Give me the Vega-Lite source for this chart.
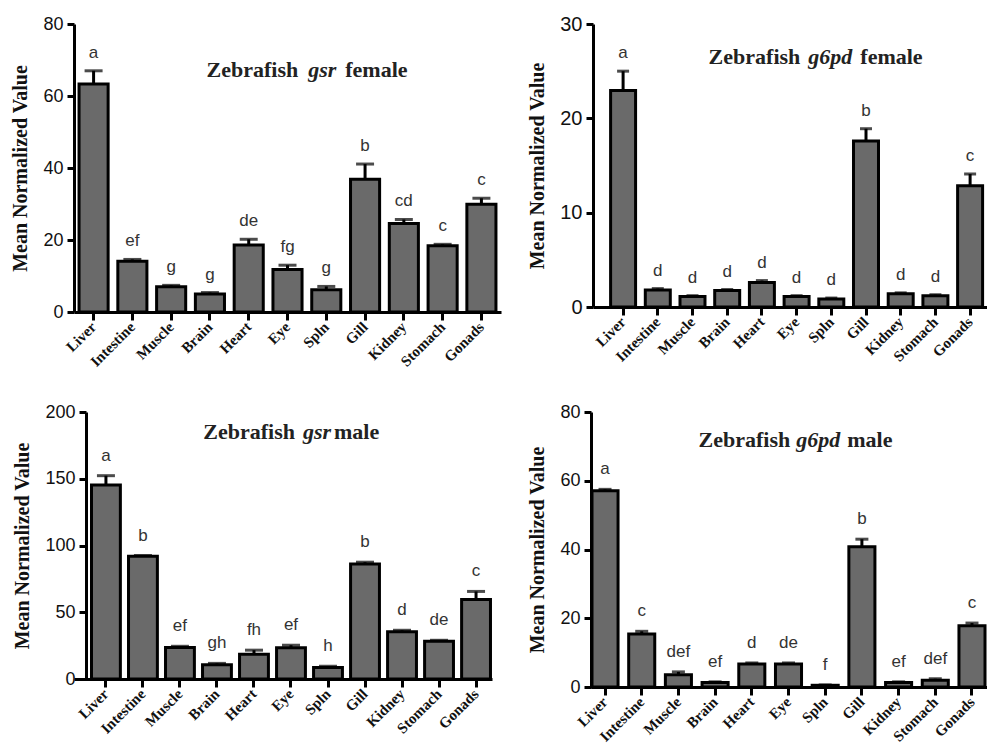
{
  "$schema": "https://vega.github.io/schema/vega-lite/v6.json",
  "padding": {"left": 10, "top": 14, "right": 0, "bottom": 0},
  "background": "white",
  "datasets": {
    "gsrF": [
      {"tissue": "Liver", "mean": 63.3, "upper": 67.0, "letter": "a"},
      {"tissue": "Intestine", "mean": 14.1, "upper": 14.6, "letter": "ef"},
      {"tissue": "Muscle", "mean": 7.0, "upper": 7.4, "letter": "g"},
      {"tissue": "Brain", "mean": 5.0, "upper": 5.4, "letter": "g"},
      {"tissue": "Heart", "mean": 18.6, "upper": 20.2, "letter": "de"},
      {"tissue": "Eye", "mean": 11.8, "upper": 13.0, "letter": "fg"},
      {"tissue": "Spln", "mean": 6.2, "upper": 7.1, "letter": "g"},
      {"tissue": "Gill", "mean": 36.9, "upper": 41.1, "letter": "b"},
      {"tissue": "Kidney", "mean": 24.6, "upper": 25.7, "letter": "cd"},
      {"tissue": "Stomach", "mean": 18.4, "upper": 18.8, "letter": "c"},
      {"tissue": "Gonads", "mean": 29.9, "upper": 31.6, "letter": "c"}
    ],
    "g6pdF": [
      {"tissue": "Liver", "mean": 22.96, "upper": 25.0, "letter": "a"},
      {"tissue": "Intestine", "mean": 1.8, "upper": 1.95, "letter": "d"},
      {"tissue": "Muscle", "mean": 1.1, "upper": 1.2, "letter": "d"},
      {"tissue": "Brain", "mean": 1.75, "upper": 1.85, "letter": "d"},
      {"tissue": "Heart", "mean": 2.6, "upper": 2.8, "letter": "d"},
      {"tissue": "Eye", "mean": 1.1, "upper": 1.2, "letter": "d"},
      {"tissue": "Spln", "mean": 0.85, "upper": 0.95, "letter": "d"},
      {"tissue": "Gill", "mean": 17.6, "upper": 18.9, "letter": "b"},
      {"tissue": "Kidney", "mean": 1.4, "upper": 1.5, "letter": "d"},
      {"tissue": "Stomach", "mean": 1.2, "upper": 1.3, "letter": "d"},
      {"tissue": "Gonads", "mean": 12.85, "upper": 14.1, "letter": "c"}
    ],
    "gsrM": [
      {"tissue": "Liver", "mean": 145.3, "upper": 152.3, "letter": "a"},
      {"tissue": "Intestine", "mean": 91.9, "upper": 92.5, "letter": "b"},
      {"tissue": "Muscle", "mean": 23.6, "upper": 24.5, "letter": "ef"},
      {"tissue": "Brain", "mean": 10.7, "upper": 11.7, "letter": "gh"},
      {"tissue": "Heart", "mean": 18.6, "upper": 21.6, "letter": "fh"},
      {"tissue": "Eye", "mean": 23.4, "upper": 25.3, "letter": "ef"},
      {"tissue": "Spln", "mean": 8.7, "upper": 9.5, "letter": "h"},
      {"tissue": "Gill", "mean": 86.2, "upper": 87.5, "letter": "b"},
      {"tissue": "Kidney", "mean": 35.3, "upper": 36.5, "letter": "d"},
      {"tissue": "Stomach", "mean": 28.3, "upper": 29.0, "letter": "de"},
      {"tissue": "Gonads", "mean": 59.6, "upper": 65.6, "letter": "c"}
    ],
    "g6pdM": [
      {"tissue": "Liver", "mean": 57.1, "upper": 57.5, "letter": "a"},
      {"tissue": "Intestine", "mean": 15.4, "upper": 16.2, "letter": "c"},
      {"tissue": "Muscle", "mean": 3.6, "upper": 4.4, "letter": "def"},
      {"tissue": "Brain", "mean": 1.3, "upper": 1.5, "letter": "ef"},
      {"tissue": "Heart", "mean": 6.7, "upper": 7.0, "letter": "d"},
      {"tissue": "Eye", "mean": 6.7, "upper": 7.0, "letter": "de"},
      {"tissue": "Spln", "mean": 0.5, "upper": 0.6, "letter": "f"},
      {"tissue": "Gill", "mean": 40.8, "upper": 43.0, "letter": "b"},
      {"tissue": "Kidney", "mean": 1.3, "upper": 1.5, "letter": "ef"},
      {"tissue": "Stomach", "mean": 2.0, "upper": 2.4, "letter": "def"},
      {"tissue": "Gonads", "mean": 17.8, "upper": 18.6, "letter": "c"}
    ]
  },
  "columns": 2,
  "align": "none",
  "spacing": {"row": 33, "column": 26},
  "concat": [
    {
      "width": 427, "height": 288,
      "data": {"name": "gsrF"},
      "encoding": {"x": {"field": "tissue", "type": "nominal", "sort": null, "title": null,
        "scale": {"domain": ["Liver","Intestine","Muscle","Brain","Heart","Eye","Spln","Gill","Kidney","Stomach","Gonads"], "paddingInner": 0.25, "paddingOuter": 0.13}}},
      "layer": [
        {"mark": {"type": "bar", "fill": "#6a6a6a", "stroke": "black", "strokeWidth": 3},
         "encoding": {"y": {"field": "mean", "type": "quantitative", "title": "Mean Normalized Value", "scale": {"domain": [0, 80]}, "axis": {"values": [0, 20, 40, 60, 80]}}}},
        {"mark": {"type": "rule", "strokeWidth": 3, "color": "black"},
         "encoding": {"y": {"field": "mean", "type": "quantitative", "title": "Mean Normalized Value"}, "y2": {"field": "upper"}}},
        {"mark": {"type": "tick", "thickness": 3, "size": 18, "color": "black"},
         "encoding": {"y": {"field": "upper", "type": "quantitative", "title": "Mean Normalized Value"}}},
        {"mark": {"type": "text", "dy": -13, "font": "Liberation Sans", "fontSize": 17, "color": "#333", "baseline": "alphabetic"},
         "encoding": {"y": {"field": "upper", "type": "quantitative", "title": "Mean Normalized Value"}, "text": {"field": "letter"}}},
        {"data": {"values": [{"t": "Zebrafish"}]},
         "mark": {"type": "text", "align": "right", "dx": -28, "font": "Liberation Serif", "fontWeight": "bold", "fontSize": 22, "baseline": "alphabetic", "color": "#222"},
         "encoding": {"x": {"datum": "Spln"}, "y": {"datum": 65.3}, "text": {"field": "t"}}},
        {"data": {"values": [{"t": "gsr"}]},
         "mark": {"type": "text", "align": "center", "dx": -4, "font": "Liberation Serif", "fontWeight": "bold", "fontStyle": "italic", "fontSize": 22, "baseline": "alphabetic", "color": "#222"},
         "encoding": {"x": {"datum": "Spln"}, "y": {"datum": 65.3}, "text": {"field": "t"}}},
        {"data": {"values": [{"t": "female"}]},
         "mark": {"type": "text", "align": "left", "dx": 19, "font": "Liberation Serif", "fontWeight": "bold", "fontSize": 22, "baseline": "alphabetic", "color": "#222"},
         "encoding": {"x": {"datum": "Spln"}, "y": {"datum": 65.3}, "text": {"field": "t"}}}
      ]
    },
    {
      "width": 394, "height": 283,
      "data": {"name": "g6pdF"},
      "encoding": {"x": {"field": "tissue", "type": "nominal", "sort": null, "title": null,
        "scale": {"domain": ["Liver","Intestine","Muscle","Brain","Heart","Eye","Spln","Gill","Kidney","Stomach","Gonads"], "paddingInner": 0.28, "paddingOuter": 0.317, "align": 0.8}}},
      "layer": [
        {"mark": {"type": "bar", "fill": "#6a6a6a", "stroke": "black", "strokeWidth": 3},
         "encoding": {"y": {"field": "mean", "type": "quantitative", "title": "Mean Normalized Value", "scale": {"domain": [0, 30]}, "axis": {"values": [0, 10, 20, 30], "labelFontSize": 20}}}},
        {"mark": {"type": "rule", "strokeWidth": 3, "color": "black"},
         "encoding": {"y": {"field": "mean", "type": "quantitative", "title": "Mean Normalized Value"}, "y2": {"field": "upper"}}},
        {"mark": {"type": "tick", "thickness": 3, "size": 12, "color": "black"},
         "encoding": {"y": {"field": "upper", "type": "quantitative", "title": "Mean Normalized Value"}}},
        {"mark": {"type": "text", "dy": -13, "font": "Liberation Sans", "fontSize": 17, "color": "#333", "baseline": "alphabetic"},
         "encoding": {"y": {"field": "upper", "type": "quantitative", "title": "Mean Normalized Value"}, "text": {"field": "letter"}}},
        {"data": {"values": [{"t": "Zebrafish"}]},
         "mark": {"type": "text", "align": "right", "dx": -31, "font": "Liberation Serif", "fontWeight": "bold", "fontSize": 22, "baseline": "alphabetic", "color": "#222"},
         "encoding": {"x": {"datum": "Spln"}, "y": {"datum": 25.8}, "text": {"field": "t"}}},
        {"data": {"values": [{"t": "g6pd"}]},
         "mark": {"type": "text", "align": "center", "dx": -1, "font": "Liberation Serif", "fontWeight": "bold", "fontStyle": "italic", "fontSize": 22, "baseline": "alphabetic", "color": "#222"},
         "encoding": {"x": {"datum": "Spln"}, "y": {"datum": 25.8}, "text": {"field": "t"}}},
        {"data": {"values": [{"t": "female"}]},
         "mark": {"type": "text", "align": "left", "dx": 29, "font": "Liberation Serif", "fontWeight": "bold", "fontSize": 22, "baseline": "alphabetic", "color": "#222"},
         "encoding": {"x": {"datum": "Spln"}, "y": {"datum": 25.8}, "text": {"field": "t"}}}
      ]
    },
    {
      "width": 418, "height": 267,
      "data": {"name": "gsrM"},
      "encoding": {"x": {"field": "tissue", "type": "nominal", "sort": null, "title": null,
        "scale": {"domain": ["Liver","Intestine","Muscle","Brain","Heart","Eye","Spln","Gill","Kidney","Stomach","Gonads"], "paddingInner": 0.22, "paddingOuter": 0.257, "align": 0.92}}},
      "layer": [
        {"mark": {"type": "bar", "fill": "#6a6a6a", "stroke": "black", "strokeWidth": 3},
         "encoding": {"y": {"field": "mean", "type": "quantitative", "title": "Mean Normalized Value", "scale": {"domain": [0, 200]}, "axis": {"values": [0, 50, 100, 150, 200], "offset": -12}}}},
        {"mark": {"type": "rule", "strokeWidth": 3, "color": "black"},
         "encoding": {"y": {"field": "mean", "type": "quantitative", "title": "Mean Normalized Value"}, "y2": {"field": "upper"}}},
        {"mark": {"type": "tick", "thickness": 3, "size": 18, "color": "black"},
         "encoding": {"y": {"field": "upper", "type": "quantitative", "title": "Mean Normalized Value"}}},
        {"mark": {"type": "text", "dy": -15, "font": "Liberation Sans", "fontSize": 17, "color": "#333", "baseline": "alphabetic"},
         "encoding": {"y": {"field": "upper", "type": "quantitative", "title": "Mean Normalized Value"}, "text": {"field": "letter"}}},
        {"data": {"values": [{"t": "Zebrafish"}]},
         "mark": {"type": "text", "align": "right", "dx": -33, "font": "Liberation Serif", "fontWeight": "bold", "fontSize": 22, "baseline": "alphabetic", "color": "#222"},
         "encoding": {"x": {"datum": "Spln"}, "y": {"datum": 180}, "text": {"field": "t"}}},
        {"data": {"values": [{"t": "gsr"}]},
         "mark": {"type": "text", "align": "center", "dx": -11, "font": "Liberation Serif", "fontWeight": "bold", "fontStyle": "italic", "fontSize": 22, "baseline": "alphabetic", "color": "#222"},
         "encoding": {"x": {"datum": "Spln"}, "y": {"datum": 180}, "text": {"field": "t"}}},
        {"data": {"values": [{"t": "male"}]},
         "mark": {"type": "text", "align": "left", "dx": 6, "font": "Liberation Serif", "fontWeight": "bold", "fontSize": 22, "baseline": "alphabetic", "color": "#222"},
         "encoding": {"x": {"datum": "Spln"}, "y": {"datum": 180}, "text": {"field": "t"}}}
      ]
    },
    {
      "width": 398, "height": 275,
      "data": {"name": "g6pdM"},
      "encoding": {"x": {"field": "tissue", "type": "nominal", "sort": null, "title": null,
        "scale": {"domain": ["Liver","Intestine","Muscle","Brain","Heart","Eye","Spln","Gill","Kidney","Stomach","Gonads"], "paddingInner": 0.29, "paddingOuter": 0.068, "align": 0.2}}},
      "layer": [
        {"mark": {"type": "bar", "fill": "#6a6a6a", "stroke": "black", "strokeWidth": 3},
         "encoding": {"y": {"field": "mean", "type": "quantitative", "title": "Mean Normalized Value", "scale": {"domain": [0, 80]}, "axis": {"values": [0, 20, 40, 60, 80]}}}},
        {"mark": {"type": "rule", "strokeWidth": 3, "color": "black"},
         "encoding": {"y": {"field": "mean", "type": "quantitative", "title": "Mean Normalized Value"}, "y2": {"field": "upper"}}},
        {"mark": {"type": "tick", "thickness": 3, "size": 13, "color": "black"},
         "encoding": {"y": {"field": "upper", "type": "quantitative", "title": "Mean Normalized Value"}}},
        {"mark": {"type": "text", "dy": -15, "font": "Liberation Sans", "fontSize": 17, "color": "#333", "baseline": "alphabetic"},
         "encoding": {"y": {"field": "upper", "type": "quantitative", "title": "Mean Normalized Value"}, "text": {"field": "letter"}}},
        {"data": {"values": [{"t": "Zebrafish"}]},
         "mark": {"type": "text", "align": "right", "dx": -35, "font": "Liberation Serif", "fontWeight": "bold", "fontSize": 22, "baseline": "alphabetic", "color": "#222"},
         "encoding": {"x": {"datum": "Spln"}, "y": {"datum": 69.7}, "text": {"field": "t"}}},
        {"data": {"values": [{"t": "g6pd"}]},
         "mark": {"type": "text", "align": "center", "dx": -7, "font": "Liberation Serif", "fontWeight": "bold", "fontStyle": "italic", "fontSize": 22, "baseline": "alphabetic", "color": "#222"},
         "encoding": {"x": {"datum": "Spln"}, "y": {"datum": 69.7}, "text": {"field": "t"}}},
        {"data": {"values": [{"t": "male"}]},
         "mark": {"type": "text", "align": "left", "dx": 22, "font": "Liberation Serif", "fontWeight": "bold", "fontSize": 22, "baseline": "alphabetic", "color": "#222"},
         "encoding": {"x": {"datum": "Spln"}, "y": {"datum": 69.7}, "text": {"field": "t"}}}
      ]
    }
  ],
  "config": {
    "font": "Liberation Sans",
    "view": {"stroke": null},
    "axis": {"domainColor": "black", "domainWidth": 3, "tickColor": "black", "tickWidth": 3, "grid": false, "labelColor": "#111", "titleColor": "#111"},
    "axisY": {"tickSize": 7, "labelPadding": 4, "labelFont": "Liberation Sans", "labelFontSize": 18, "titleFont": "Liberation Serif", "titleFontSize": 20, "titleFontWeight": "bold", "titlePadding": 12},
    "axisX": {"tickSize": 8, "labelAngle": -45, "labelAlign": "right", "labelBaseline": "middle", "labelFont": "Liberation Serif", "labelFontWeight": "bold", "labelFontSize": 15, "labelPadding": 4, "labelOverlap": false}
  }
}
